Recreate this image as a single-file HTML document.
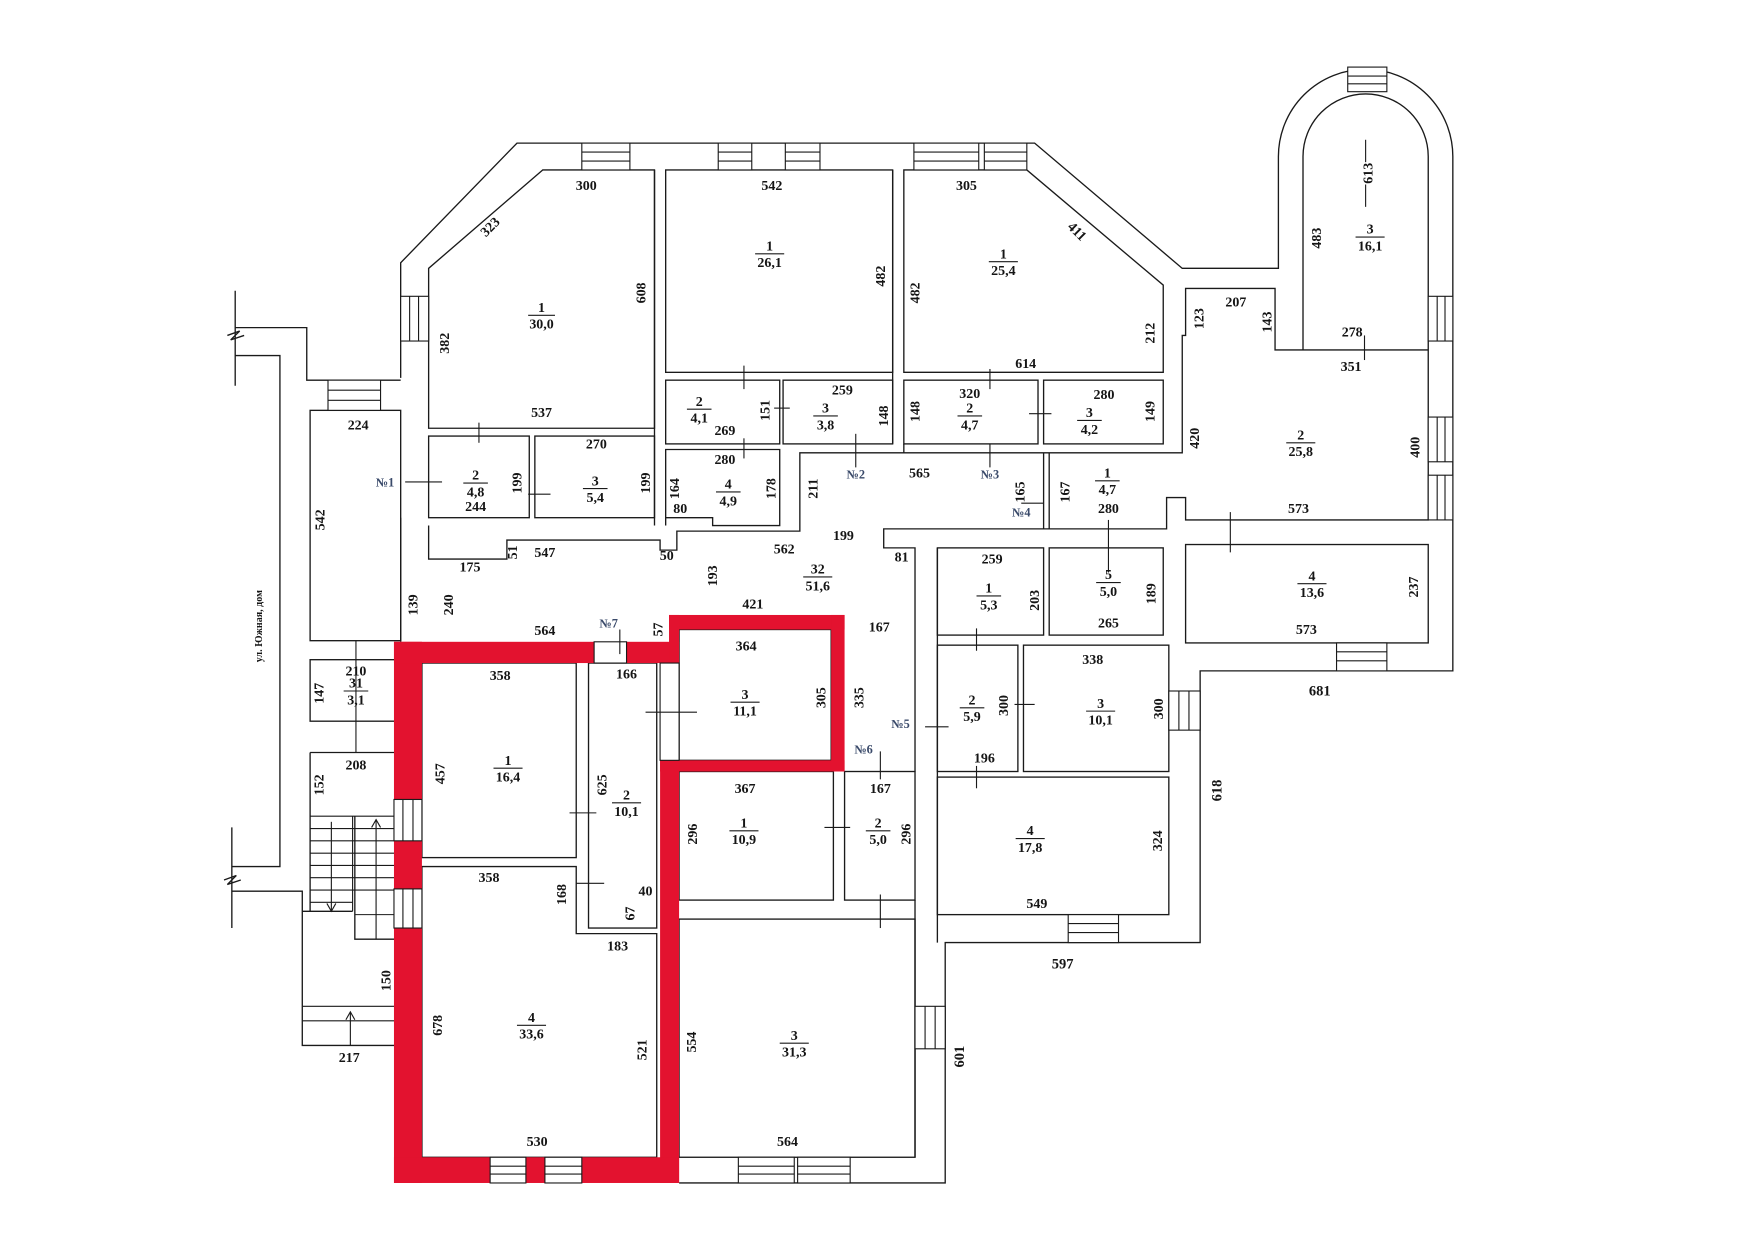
<!DOCTYPE html>
<html><head><meta charset="utf-8"><style>
html,body{margin:0;padding:0;background:#fff;}
svg{display:block}
text{font-family:"Liberation Serif",serif;font-size:12.5px;fill:#151515;text-anchor:middle;font-weight:bold}
.b{font-size:11px;fill:#3a4a6a}
</style></head><body>
<svg width="1754" height="1240" viewBox="0 0 1568 1109" xmlns="http://www.w3.org/2000/svg">
<rect width="1568" height="1109" fill="#fff"/>
<g fill="none" stroke="#1a1a1a" stroke-width="1.2">
<!-- outer contour -->
<path d="M358,338 L358,235 L462,128 L925,128 L1057,240 L1143,240 L1143,140 A78,78 0 0 1 1299,140 L1299,600 L1073,600 L1073,843 L845,843 L845,1058 L607,1058"/>
<!-- left site lines -->
<path d="M210,293 L274,293 L274,340 L358,340"/>
<path d="M210,318 L250,318 L250,775 L207,775"/>
<path d="M207,797 L270,797 L270,935 L355,935"/>
<path d="M210,260 L210,345 M203,300 L214,296 L206,304 L218,300"/>
<path d="M207,740 L207,830 M200,787 L211,783 L203,791 L215,787"/>
<!-- rooms -->
<path d="M485,152 L383,240 L383,383 L585,383 L585,152 Z"/>
<rect x="383" y="390" width="90" height="73"/>
<rect x="478" y="390" width="107" height="73"/>
<rect x="595" y="152" width="203" height="181"/>
<rect x="595" y="340" width="102" height="57"/>
<rect x="700" y="340" width="98" height="57"/>
<path d="M595,402 L697,402 L697,470 L637,470 L637,463 L595,463 Z"/>
<path d="M808,152 L918,152 L1040,255 L1040,333 L808,333 Z"/>
<rect x="808" y="340" width="120" height="57"/>
<rect x="933" y="340" width="107" height="57"/>
<path d="M715,453 L715,405 L1057,405 L1057,300 L1060,300 L1060,258 L1140,258 L1140,313 L1277,313"/>
<path d="M1165,313 L1165,140 A56,56 0 0 1 1277,140 L1277,465 L1060,465 L1060,445 L1043,445 L1043,473 L790,473 L790,490 L818,490 L818,690"/>
<line x1="933" y1="405" x2="933" y2="473"/><line x1="938" y1="405" x2="938" y2="473"/>
<rect x="1060" y="487" width="217" height="88"/>
<rect x="838" y="490" width="95" height="78"/>
<rect x="938" y="490" width="102" height="78"/>
<rect x="838" y="577" width="72" height="113"/>
<rect x="915" y="577" width="130" height="113"/>
<rect x="838" y="695" width="207" height="123"/>
<line x1="838" y1="490" x2="838" y2="843"/>
<line x1="818" y1="805" x2="818" y2="1035"/>
<!-- corridor lines -->
<path d="M358,463 L358,574"/>
<path d="M383,470 L383,500 L453,500 L453,483 L590,483 L590,492 L605,492 L605,475 L715,475 L715,453"/>
<line x1="585" y1="152" x2="585" y2="470"/><line x1="595" y1="470" x2="595" y2="463"/>
<line x1="798" y1="152" x2="798" y2="397"/><line x1="808" y1="397" x2="808" y2="405"/>
<!-- left column -->
<rect x="277" y="367" width="81" height="206"/>
<rect x="277" y="590" width="78" height="55"/>
<path d="M277,673 L355,673 L355,935 M277,673 L277,815 L270,815"/>
<path d="M277,815 L315,815 M317,730 L317,840 L355,840"/>
<!-- red zone interior rooms -->
<rect x="377" y="593" width="138" height="174"/>
<rect x="526" y="593" width="61" height="237"/>
<path d="M377,775 L515,775 L515,835 L587,835 L587,1035 L377,1035 Z"/>
<rect x="607" y="563" width="136" height="117"/>
<rect x="607" y="690" width="138" height="115"/>
<rect x="755" y="690" width="63" height="115"/>
<rect x="607" y="822" width="211" height="213"/>
</g>
<!-- stairs -->
<g stroke="#1a1a1a" stroke-width="1">
<line x1="277" y1="730" x2="355" y2="730"/>
<line x1="277" y1="741" x2="355" y2="741"/><line x1="277" y1="752" x2="355" y2="752"/>
<line x1="277" y1="763" x2="355" y2="763"/><line x1="277" y1="774" x2="355" y2="774"/>
<line x1="277" y1="785" x2="355" y2="785"/><line x1="277" y1="796" x2="355" y2="796"/>
<line x1="277" y1="807" x2="315" y2="807"/><line x1="317" y1="818" x2="355" y2="818"/>
<line x1="315" y1="730" x2="315" y2="815"/>
<line x1="296" y1="735" x2="296" y2="815"/><path d="M292,808 L296,815 L300,808" fill="none"/>
<line x1="336" y1="733" x2="336" y2="840"/><path d="M332,740 L336,733 L340,740" fill="none"/>
<line x1="270" y1="900" x2="355" y2="900"/><line x1="270" y1="913" x2="355" y2="913"/>
<line x1="313" y1="905" x2="313" y2="935"/><path d="M309,912 L313,905 L317,912" fill="none"/>
</g>
<!-- red walls -->
<g fill="#e3122f">
<rect x="352" y="574" width="25" height="484"/>
<rect x="352" y="574" width="179" height="19"/>
<rect x="560" y="574" width="47" height="19"/>
<rect x="598" y="550" width="157" height="13"/>
<rect x="598" y="550" width="9" height="43"/>
<rect x="743" y="550" width="12" height="140"/>
<rect x="590" y="680" width="165" height="10"/>
<rect x="590" y="680" width="17" height="378"/>
<rect x="352" y="1035" width="255" height="23"/>
</g>
<!-- windows -->
<g fill="#fff" stroke="#1a1a1a" stroke-width="1">
<rect x="531" y="574" width="29" height="19"/>
<rect x="590" y="593" width="17" height="87"/>
<rect x="352" y="715" width="25" height="37"/><line x1="360" y1="715" x2="360" y2="752"/><line x1="369" y1="715" x2="369" y2="752"/>
<rect x="352" y="795" width="25" height="35"/><line x1="360" y1="795" x2="360" y2="830"/><line x1="369" y1="795" x2="369" y2="830"/>
<rect x="438" y="1035" width="32" height="23"/><line x1="438" y1="1043" x2="470" y2="1043"/><line x1="438" y1="1050" x2="470" y2="1050"/>
<rect x="487" y="1035" width="33" height="23"/><line x1="487" y1="1043" x2="520" y2="1043"/><line x1="487" y1="1050" x2="520" y2="1050"/>
<rect x="660" y="1035" width="50" height="23"/><line x1="660" y1="1043" x2="710" y2="1043"/><line x1="660" y1="1050" x2="710" y2="1050"/>
<rect x="713" y="1035" width="47" height="23"/><line x1="713" y1="1043" x2="760" y2="1043"/><line x1="713" y1="1050" x2="760" y2="1050"/>
<rect x="818" y="900" width="27" height="38"/><line x1="827" y1="900" x2="827" y2="938"/><line x1="836" y1="900" x2="836" y2="938"/>
<rect x="955" y="818" width="45" height="25"/><line x1="955" y1="826" x2="1000" y2="826"/><line x1="955" y1="834" x2="1000" y2="834"/>
<rect x="1045" y="618" width="28" height="35"/><line x1="1054" y1="618" x2="1054" y2="653"/><line x1="1063" y1="618" x2="1063" y2="653"/>
<rect x="1195" y="575" width="45" height="25"/><line x1="1195" y1="583" x2="1240" y2="583"/><line x1="1195" y1="591" x2="1240" y2="591"/>
<rect x="1277" y="265" width="22" height="40"/><line x1="1285" y1="265" x2="1285" y2="305"/><line x1="1292" y1="265" x2="1292" y2="305"/>
<rect x="1277" y="373" width="22" height="40"/><line x1="1285" y1="373" x2="1285" y2="413"/><line x1="1292" y1="373" x2="1292" y2="413"/>
<rect x="1277" y="425" width="22" height="40"/><line x1="1285" y1="425" x2="1285" y2="465"/><line x1="1292" y1="425" x2="1292" y2="465"/>
<rect x="1205" y="60" width="35" height="22"/><line x1="1205" y1="68" x2="1240" y2="68"/><line x1="1205" y1="75" x2="1240" y2="75"/>
<rect x="520" y="128" width="43" height="24"/><line x1="520" y1="136" x2="563" y2="136"/><line x1="520" y1="144" x2="563" y2="144"/>
<rect x="642" y="128" width="30" height="24"/><line x1="642" y1="136" x2="672" y2="136"/><line x1="642" y1="144" x2="672" y2="144"/>
<rect x="702" y="128" width="31" height="24"/><line x1="702" y1="136" x2="733" y2="136"/><line x1="702" y1="144" x2="733" y2="144"/>
<rect x="817" y="128" width="58" height="24"/><line x1="817" y1="136" x2="875" y2="136"/><line x1="817" y1="144" x2="875" y2="144"/>
<rect x="880" y="128" width="38" height="24"/><line x1="880" y1="136" x2="918" y2="136"/><line x1="880" y1="144" x2="918" y2="144"/>
<rect x="358" y="265" width="25" height="40"/><line x1="366" y1="265" x2="366" y2="305"/><line x1="374" y1="265" x2="374" y2="305"/>
<rect x="293" y="340" width="47" height="27"/><line x1="293" y1="349" x2="340" y2="349"/><line x1="293" y1="358" x2="340" y2="358"/>
</g>
<!-- door ticks -->
<g stroke="#1a1a1a" stroke-width="1">
<line x1="665" y1="327" x2="665" y2="348"/><line x1="428" y1="378" x2="428" y2="396"/>
<line x1="665" y1="392" x2="665" y2="410"/><line x1="765" y1="388" x2="765" y2="418"/>
<line x1="885" y1="330" x2="885" y2="348"/><line x1="885" y1="397" x2="885" y2="418"/>
<line x1="920" y1="370" x2="940" y2="370"/><line x1="692" y1="365" x2="706" y2="365"/>
<line x1="472" y1="442" x2="492" y2="442"/><line x1="362" y1="431" x2="395" y2="431"/>
<line x1="1100" y1="458" x2="1100" y2="494"/><line x1="1220" y1="300" x2="1220" y2="322"/>
<line x1="991" y1="465" x2="991" y2="512"/><line x1="873" y1="562" x2="873" y2="582"/>
<line x1="907" y1="630" x2="925" y2="630"/><line x1="873" y1="685" x2="873" y2="705"/>
<line x1="827" y1="650" x2="848" y2="650"/><line x1="787" y1="672" x2="787" y2="697"/>
<line x1="787" y1="800" x2="787" y2="830"/><line x1="737" y1="740" x2="760" y2="740"/>
<line x1="577" y1="637" x2="623" y2="637"/><line x1="509" y1="727" x2="533" y2="727"/>
<line x1="515" y1="790" x2="540" y2="790"/><line x1="554" y1="563" x2="554" y2="585"/>
<line x1="318" y1="573" x2="318" y2="673"/><line x1="913" y1="450" x2="933" y2="450"/>
<line x1="1221" y1="125" x2="1221" y2="145"/><line x1="1221" y1="165" x2="1221" y2="185"/>
</g>
<!-- fractions -->
<g stroke="#1a1a1a" stroke-width="1">
<line x1="472" y1="282" x2="496" y2="282"/><line x1="675" y1="227" x2="701" y2="227"/>
<line x1="884" y1="234" x2="910" y2="234"/><line x1="1212" y1="212" x2="1238" y2="212"/>
<line x1="614" y1="366" x2="636" y2="366"/><line x1="727" y1="372" x2="749" y2="372"/>
<line x1="856" y1="372" x2="878" y2="372"/><line x1="963" y1="376" x2="985" y2="376"/>
<line x1="414" y1="432" x2="436" y2="432"/><line x1="521" y1="437" x2="543" y2="437"/>
<line x1="640" y1="440" x2="662" y2="440"/><line x1="979" y1="430" x2="1001" y2="430"/>
<line x1="1150" y1="396" x2="1176" y2="396"/><line x1="718" y1="516" x2="744" y2="516"/>
<line x1="873" y1="533" x2="895" y2="533"/><line x1="980" y1="521" x2="1002" y2="521"/>
<line x1="1160" y1="522" x2="1186" y2="522"/><line x1="653" y1="628" x2="679" y2="628"/>
<line x1="858" y1="633" x2="880" y2="633"/><line x1="971" y1="636" x2="997" y2="636"/>
<line x1="908" y1="750" x2="934" y2="750"/><line x1="307" y1="618" x2="329" y2="618"/>
<line x1="441" y1="687" x2="467" y2="687"/><line x1="547" y1="718" x2="573" y2="718"/>
<line x1="462" y1="917" x2="488" y2="917"/><line x1="652" y1="743" x2="678" y2="743"/>
<line x1="774" y1="743" x2="796" y2="743"/><line x1="697" y1="933" x2="723" y2="933"/>
</g>
<g>
<text x="484" y="279">1</text><text x="484" y="294">30,0</text>
<text x="688" y="224">1</text><text x="688" y="239">26,1</text>
<text x="897" y="231">1</text><text x="897" y="246">25,4</text>
<text x="1225" y="209">3</text><text x="1225" y="224">16,1</text>
<text x="625" y="363">2</text><text x="625" y="378">4,1</text>
<text x="738" y="369">3</text><text x="738" y="384">3,8</text>
<text x="867" y="369">2</text><text x="867" y="384">4,7</text>
<text x="974" y="373">3</text><text x="974" y="388">4,2</text>
<text x="425" y="429">2</text><text x="425" y="444">4,8</text>
<text x="532" y="434">3</text><text x="532" y="449">5,4</text>
<text x="651" y="437">4</text><text x="651" y="452">4,9</text>
<text x="990" y="427">1</text><text x="990" y="442">4,7</text>
<text x="1163" y="393">2</text><text x="1163" y="408">25,8</text>
<text x="731" y="513">32</text><text x="731" y="528">51,6</text>
<text x="884" y="530">1</text><text x="884" y="545">5,3</text>
<text x="991" y="518">5</text><text x="991" y="533">5,0</text>
<text x="1173" y="519">4</text><text x="1173" y="534">13,6</text>
<text x="666" y="625">3</text><text x="666" y="640">11,1</text>
<text x="869" y="630">2</text><text x="869" y="645">5,9</text>
<text x="984" y="633">3</text><text x="984" y="648">10,1</text>
<text x="921" y="747">4</text><text x="921" y="762">17,8</text>
<text x="318" y="615">31</text><text x="318" y="630">3,1</text>
<text x="454" y="684">1</text><text x="454" y="699">16,4</text>
<text x="560" y="715">2</text><text x="560" y="730">10,1</text>
<text x="475" y="914">4</text><text x="475" y="929">33,6</text>
<text x="665" y="740">1</text><text x="665" y="755">10,9</text>
<text x="785" y="740">2</text><text x="785" y="755">5,0</text>
<text x="710" y="930">3</text><text x="710" y="945">31,3</text>

<text x="524" y="170">300</text><text x="690" y="170">542</text><text x="864" y="170">305</text>
<text x="438" y="207" transform="rotate(-45 438 203)">323</text>
<text x="963" y="211" transform="rotate(45 963 207)">411</text>
<text x="1105" y="274">207</text><text x="1209" y="301">278</text><text x="1208" y="332">351</text>
<text x="484" y="373">537</text><text x="917" y="329">614</text><text x="320" y="384">224</text>
<text x="533" y="401">270</text><text x="425" y="457">244</text><text x="648" y="415">280</text>
<text x="608" y="459">80</text><text x="648" y="389">269</text><text x="753" y="353">259</text>
<text x="867" y="356">320</text><text x="987" y="357">280</text><text x="822" y="427">565</text>
<text x="991" y="459">280</text><text x="1161" y="459">573</text><text x="420" y="511">175</text>
<text x="487" y="498">547</text><text x="596" y="501">50</text><text x="701" y="495">562</text>
<text x="754" y="483">199</text><text x="806" y="502">81</text><text x="673" y="544">421</text>
<text x="487" y="568">564</text><text x="786" y="565">167</text><text x="887" y="504">259</text>
<text x="991" y="561">265</text><text x="1168" y="567">573</text><text x="1180" y="622" style="font-size:13px">681</text>
<text x="667" y="582">364</text><text x="977" y="594">338</text><text x="880" y="682">196</text>
<text x="927" y="812">549</text><text x="950" y="866" style="font-size:13px">597</text>
<text x="318" y="604">210</text><text x="318" y="688">208</text><text x="312" y="950">217</text>
<text x="447" y="608">358</text><text x="560" y="607">166</text><text x="437" y="789">358</text>
<text x="577" y="801">40</text><text x="552" y="850">183</text><text x="480" y="1025">530</text>
<text x="666" y="709">367</text><text x="787" y="709">167</text><text x="704" y="1025">564</text>
<text class="b" x="344" y="435">№1</text><text class="b" x="765" y="428">№2</text>
<text class="b" x="885" y="428">№3</text><text class="b" x="913" y="462">№4</text>
<text class="b" x="805" y="651">№5</text><text class="b" x="772" y="674">№6</text>
<text class="b" x="544" y="561">№7</text>

<g>
<text transform="translate(577,262) rotate(-90)">608</text>
<text transform="translate(791,247) rotate(-90)">482</text>
<text transform="translate(822,262) rotate(-90)">482</text>
<text transform="translate(1032,298) rotate(-90)">212</text>
<text transform="translate(401,307) rotate(-90)">382</text>
<text transform="translate(290,465) rotate(-90)">542</text>
<text transform="translate(466,432) rotate(-90)">199</text>
<text transform="translate(581,432) rotate(-90)">199</text>
<text transform="translate(607,437) rotate(-90)">164</text>
<text transform="translate(693,437) rotate(-90)">178</text>
<text transform="translate(731,437) rotate(-90)">211</text>
<text transform="translate(688,367) rotate(-90)">151</text>
<text transform="translate(794,372) rotate(-90)">148</text>
<text transform="translate(822,368) rotate(-90)">148</text>
<text transform="translate(1032,368) rotate(-90)">149</text>
<text transform="translate(916,440) rotate(-90)">165</text>
<text transform="translate(956,440) rotate(-90)">167</text>
<text transform="translate(1072,392) rotate(-90)">420</text>
<text transform="translate(1076,285) rotate(-90)">123</text>
<text transform="translate(1137,288) rotate(-90)">143</text>
<text transform="translate(1181,213) rotate(-90)">483</text>
<text transform="translate(1227,155) rotate(-90)">613</text>
<text transform="translate(1269,400) rotate(-90)">400</text>
<text transform="translate(462,494) rotate(-90)">51</text>
<text transform="translate(641,515) rotate(-90)">193</text>
<text transform="translate(373,541) rotate(-90)">139</text>
<text transform="translate(405,541) rotate(-90)">240</text>
<text transform="translate(592,563) rotate(-90)">57</text>
<text transform="translate(929,537) rotate(-90)">203</text>
<text transform="translate(1033,531) rotate(-90)">189</text>
<text transform="translate(1268,525) rotate(-90)">237</text>
<text transform="translate(738,624) rotate(-90)">305</text>
<text transform="translate(772,624) rotate(-90)">335</text>
<text transform="translate(901,631) rotate(-90)">300</text>
<text transform="translate(1040,634) rotate(-90)">300</text>
<text transform="translate(1039,752) rotate(-90)">324</text>
<text transform="translate(1092,707) rotate(-90)" style="font-size:13px">618</text>
<text transform="translate(862,945) rotate(-90)" style="font-size:13px">601</text>
<text transform="translate(289,620) rotate(-90)">147</text>
<text transform="translate(289,702) rotate(-90)">152</text>
<text transform="translate(349,877) rotate(-90)">150</text>
<text transform="translate(397,692) rotate(-90)">457</text>
<text transform="translate(542,702) rotate(-90)">625</text>
<text transform="translate(506,800) rotate(-90)">168</text>
<text transform="translate(567,817) rotate(-90)">67</text>
<text transform="translate(395,917) rotate(-90)">678</text>
<text transform="translate(578,939) rotate(-90)">521</text>
<text transform="translate(623,746) rotate(-90)">296</text>
<text transform="translate(814,746) rotate(-90)">296</text>
<text transform="translate(622,932) rotate(-90)">554</text>
<text transform="translate(234,560) rotate(-90)" style="font-size:9px">ул. Южная, дом</text>
</g>
</g>
</svg>
</body></html>
